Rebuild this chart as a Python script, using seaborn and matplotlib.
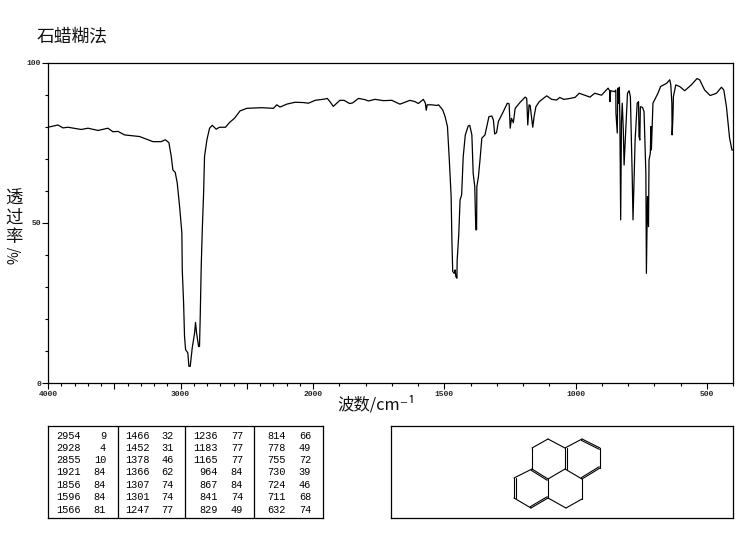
import matplotlib
matplotlib.use("Agg")
import matplotlib.pyplot as plt
import numpy as np
import pandas as pd
import seaborn as sns

# spectrum
wavenumber = [4000, 3925, 3887, 3849, 3749, 3698, 3623, 3548, 3510, 3472, 3422, 3309, 3208, 3146, 3115, 3088,
              3070, 3058, 3040, 3025, 3007, 2990, 2987, 2977, 2970, 2962, 2945, 2937, 2927, 2912, 2894, 2887,
              2879, 2864, 2857, 2852, 2844, 2836, 2826, 2819, 2801, 2781, 2761, 2731, 2706, 2661, 2630, 2593,
              2551, 2501, 2387, 2299, 2274, 2249, 2199, 2136, 2073, 2035, 1992, 1955, 1946, 1936, 1923, 1898,
              1882, 1861, 1849, 1827, 1802, 1789, 1764, 1732, 1700, 1669, 1631, 1612, 1599, 1580, 1572, 1569,
              1565, 1548, 1529, 1522, 1506, 1497, 1488, 1481, 1474, 1471, 1468, 1462, 1459, 1456, 1452, 1451,
              1445, 1440, 1434, 1428, 1420, 1409, 1403, 1395, 1390, 1384, 1380, 1377, 1376, 1370, 1364, 1357,
              1345, 1330, 1319, 1313, 1308, 1301, 1294, 1275, 1260, 1253, 1249, 1244, 1237, 1230, 1212, 1192,
              1186, 1182, 1177, 1173, 1168, 1163, 1158, 1151, 1138, 1110, 1091, 1072, 1060, 1045, 1027, 1002,
              986, 945, 927, 901, 876, 870, 869, 866, 851, 846.5, 846, 841, 839, 836.5, 833, 831, 828, 825, 822,
              818, 815, 808, 802, 796, 791, 784, 781, 777, 773, 765, 760, 758, 755, 753, 745, 739, 732, 730, 726,
              722, 720, 715, 713, 711, 708, 705, 686, 676, 653, 641, 637, 633, 632, 629, 627, 618, 603, 584, 559,
              537, 527, 508, 487, 463, 444, 435, 425, 413, 404, 400]
transmittance = [79.8, 80.5, 79.6, 79.8, 79.1, 79.5, 78.8, 79.5, 78.4, 78.5, 77.4, 76.9, 75.3, 75.3, 75.9, 75,
                 70.7, 66.5, 65.7, 62.4, 55, 46.8, 35.3, 25, 14.6, 10.4, 9.4, 5.2, 5.2, 10.9, 15.6, 18.9,
                 15.6, 11.4, 11.4, 19.8, 36.4, 47.8, 59.3, 70.7, 75.9, 79.5, 80.4, 79.2, 79.8, 79.8, 81.3, 82.6,
                 84.9, 85.7, 85.9, 85.7, 86.8, 86.1, 87, 87.6, 87.5, 87.3, 88.2, 88.6, 88.8, 87.8, 86.3, 88.2,
                 88.2, 87.2, 87.4, 88.8, 88.4, 88, 88.5, 88.1, 88.2, 87, 88.2, 87.8, 87.2, 88.5, 87.3, 85.1,
                 86.8, 86.8, 86.6, 86.8, 85.2, 83.1, 80, 69.6, 58.2, 44.1, 34.8, 34.2, 35.3, 33.2, 32.7, 38.4,
                 46.2, 57.1, 58.7, 70.6, 77.4, 80.2, 80.4, 77.4, 65.4, 61.3, 47.8, 47.8, 61.3, 64.4, 69.6, 76.4,
                 77.4, 83.1, 83.3, 82.1, 77.7, 78.1, 81.6, 84.7, 87.3, 87.1, 79.5, 82.6, 81.2, 85.7, 87.5, 89.2,
                 88.8, 80.5, 86.8, 86.6, 83.1, 79.8, 83.1, 86.2, 87.8, 89.6, 88.5, 88.3, 89.1, 88.5, 88.7, 89.1,
                 90.4, 89.2, 90.4, 89.8, 92, 91.2, 87.8, 91.2, 90.9, 91.4, 84.2, 78, 92, 87.3, 92.3, 81.6, 50.9, 81.6, 87.3,
                 79, 68, 80, 90.4, 91.2, 89.4, 64.4, 50.9, 63.4, 75.8, 87.3, 87.8, 76.9, 75.8, 86.2, 86, 84.7, 65.4, 34.2, 58.2,
                 48.8, 69.6, 71.7, 80, 72.7, 80, 87.3, 90.4, 92.5, 93.5, 94.6, 93, 87.3, 77.4, 82.6, 89.4, 93, 92.5, 91.2, 93,
                 95, 94.6, 91.4, 89.7, 90.4, 92.3, 91.4, 86.2, 76.4, 72.7, 72.7]

# peak table, four blocks
peak_pos = [[2954, 2928, 2855, 1921, 1856, 1596, 1566],
            [1466, 1452, 1378, 1366, 1307, 1301, 1247],
            [1236, 1183, 1165, 964, 867, 841, 829],
            [814, 778, 755, 730, 724, 711, 632]]
peak_val = [[9, 4, 10, 84, 84, 84, 81],
            [32, 31, 46, 62, 74, 74, 77],
            [77, 77, 77, 84, 84, 74, 49],
            [66, 49, 72, 39, 46, 68, 74]]

x_major = [4000, 3500, 3000, 2500, 2000, 1500, 1000, 500]
x_labels = ["4000", "", "3000", "", "2000", "1500", "1000", "500"]
y_major = [0, 50, 100]

# structure drawing, vertices in picture pixels
atoms = {"a": (548, 439), "b": (532, 448), "c": (532, 469), "d": (548, 479), "e": (565, 469), "f": (565, 448),
         "g": (582, 439), "h": (600, 448), "i": (600, 468), "j": (582, 479), "k": (582, 499), "l": (566, 508),
         "m": (548, 498), "n": (531, 508), "o": (514, 498), "p": (514, 478)}
single_bonds = ["ab", "bc", "de", "fa", "fg", "hi", "je", "jk", "kl", "lm", "md", "no", "pc"]
double_bonds = ["ef", "gh", "ij", "cd", "op", "mn"]

W, H = 743, 539
CJK = ["Noto Sans CJK SC", "DejaVu Sans"]
TICK_FONT = "Liberation Mono"


def px_axes(fig, left, top, right, bottom):
    return fig.add_axes([left / W, 1 - bottom / H, (right - left) / W, (bottom - top) / H])


def forward(v):
    v = np.asarray(v, dtype=float)
    return np.where(v > 2000, v, 2000 + (v - 2000) * 1.98)


def inverse(v):
    v = np.asarray(v, dtype=float)
    return np.where(v > 2000, v, 2000 + (v - 2000) / 1.98)


sns.set_theme(style="white")
plt.rcParams["font.family"] = CJK
plt.rcParams["axes.edgecolor"] = "black"

fig = plt.figure(figsize=(W / 100, H / 100), dpi=100)
ax = px_axes(fig, 48, 62.5, 733, 383)

df = pd.DataFrame({"wavenumber": wavenumber, "transmittance": transmittance})
sns.lineplot(data=df, x="wavenumber", y="transmittance", sort=False, estimator=None,
             color="black", linewidth=0.9, ax=ax)

ax.set_xscale("function", functions=(forward, inverse))
ax.set_xlim(4000, 400)
ax.set_ylim(0, 100)
ax.set_xticks(x_major)
ax.set_xticklabels(x_labels, family=TICK_FONT, fontsize=5.8, fontweight="bold")
ax.set_xticks(np.arange(400, 4000, 100), minor=True)
ax.set_yticks(y_major)
ax.set_yticklabels(["0", "50", "100"], family=TICK_FONT, fontsize=5.8, fontweight="bold")
ax.set_yticks(np.arange(0, 101, 10), minor=True)
ax.tick_params(axis="x", which="major", length=4.5, width=0.8, bottom=True, pad=1.5, color="black")
ax.tick_params(axis="x", which="minor", length=2, width=0.8, bottom=True, color="black")
ax.tick_params(axis="y", which="major", length=4, width=0.8, left=True, pad=1, color="black")
ax.tick_params(axis="y", which="minor", length=2, width=0.8, left=True, color="black")
ax.grid(False)
ax.set_xlabel("")
ax.set_ylabel("")
for s in ax.spines.values():
    s.set_linewidth(0.9)

fig.text(37 / W, 1 - 36 / H, "石蜡糊法", fontsize=12.8, va="center", ha="left", color="#111111")
fig.text(376 / W, 1 - 405 / H, "波数/cm⁻¹", fontsize=11.8, va="center", ha="center", color="#111111")
for ch, y in zip("透过率", [199, 218, 237]):
    fig.text(14 / W, 1 - y / H, ch, fontsize=12.5, va="center", ha="center", color="#111111")
fig.text(14 / W, 1 - 255 / H, "%/", fontsize=10, rotation=90, va="center", ha="center", color="#111111")

# peak table
tab = px_axes(fig, 48, 426, 322.5, 518)
tab.set_xlim(48, 322.5)
tab.set_ylim(518, 426)
tab.set_xticks([])
tab.set_yticks([])
for x in [117.5, 185, 254]:
    tab.axvline(x, color="black", linewidth=0.9)
pos_right = [81, 150, 218, 286]
val_right = [106, 174, 243, 311]
row_y = [435.7, 447.7, 460, 472.3, 485, 497.3, 509.7]
for c in range(4):
    for r in range(7):
        tab.text(pos_right[c], row_y[r], str(peak_pos[c][r]), family=TICK_FONT, fontsize=7.4,
                 ha="right", va="center", color="black")
        tab.text(val_right[c], row_y[r], str(peak_val[c][r]), family=TICK_FONT, fontsize=7.4,
                 ha="right", va="center", color="black")

# structure box
mol = px_axes(fig, 391, 426, 733, 518)
mol.set_xlim(391, 733)
mol.set_ylim(518, 426)
mol.set_xticks([])
mol.set_yticks([])
for b in single_bonds:
    p, q = atoms[b[0]], atoms[b[1]]
    mol.plot([p[0], q[0]], [p[1], q[1]], color="black", linewidth=0.8)
for b in double_bonds:
    p, q = np.array(atoms[b[0]], float), np.array(atoms[b[1]], float)
    d = q - p
    n = np.array([-d[1], d[0]]) / np.hypot(*d)
    mid = (p + q) / 2
    ring = np.mean([np.array(v, float) for v in atoms.values()
                    if np.hypot(*(np.array(v, float) - mid)) < 21], axis=0)
    if np.dot(n, ring - mid) < 0:
        n = -n
    for a, c in [(p, q), (p + n * 1.5, q + n * 1.5)]:
        mol.plot([a[0], c[0]], [a[1], c[1]], color="black", linewidth=0.8)
for a in [tab, mol]:
    for s in a.spines.values():
        s.set_linewidth(0.9)

fig.savefig("out.png", dpi=100)
